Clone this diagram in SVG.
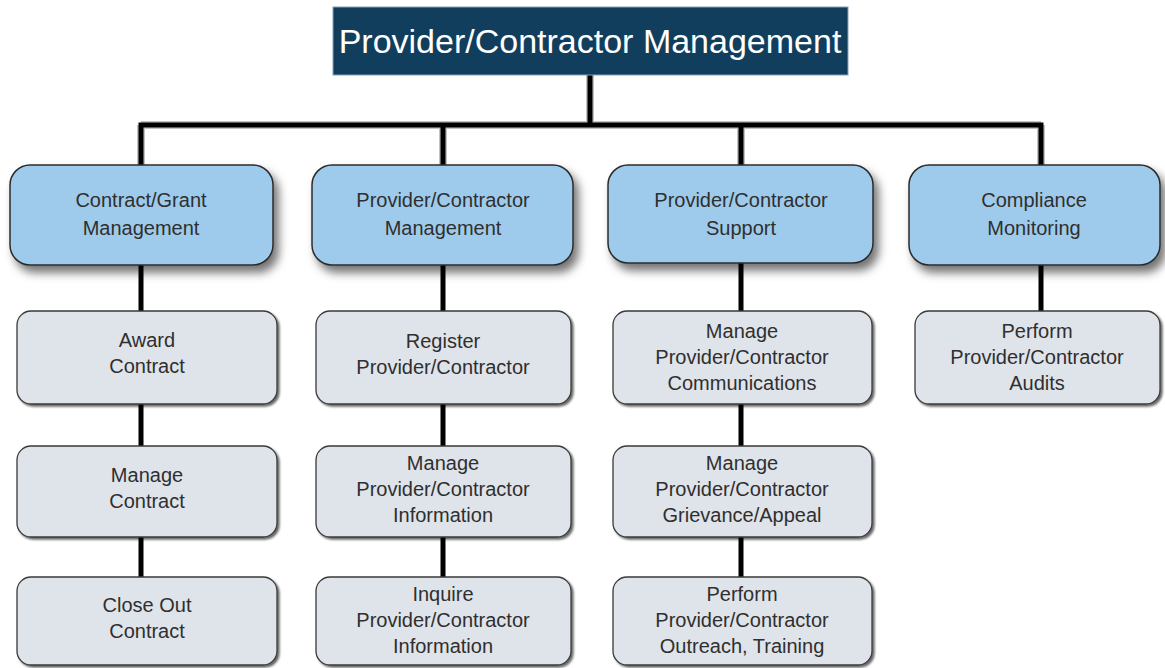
<svg xmlns="http://www.w3.org/2000/svg" width="1165" height="668" viewBox="0 0 1165 668">
<defs>
<filter id="sh" x="-10%" y="-10%" width="130%" height="140%">
<feDropShadow dx="5" dy="7" stdDeviation="5" flood-color="#000" flood-opacity="0.55"/>
</filter>
<filter id="sh2" x="-5%" y="-5%" width="110%" height="115%">
<feDropShadow dx="2" dy="2" stdDeviation="1" flood-color="#000" flood-opacity="0.6"/>
</filter>
<style>
.conn{stroke:#000;stroke-width:5;fill:none;stroke-linecap:square}
.halo{stroke:#999;stroke-width:8;fill:none;opacity:0.6}
.blue{fill:#9ecbec;stroke:#2b2b2b;stroke-width:1.5;filter:url(#sh)}
.gray{fill:#dfe3ea;stroke:#3a3a3a;stroke-width:1.3;filter:url(#sh2)}
.t{font-family:"Liberation Sans",Arial,sans-serif;font-size:20px;fill:#2f2f2f;text-anchor:middle}
.title{font-family:"Liberation Sans",Arial,sans-serif;font-size:34px;fill:#ffffff;text-anchor:middle}
</style>
</defs>
<rect width="1165" height="668" fill="#ffffff"/>
<g id="connectors">
<path class="halo" d="M590 75V125M141 125H1041M141 125V165M443 125V165M741 125V165M1041 125V165"/>
<path class="conn" d="M590 75V125M141 125H1041M141 125V165M443 125V165M741 125V165M1041 125V165"/>
<path class="conn" d="M141 265V311M141 404V446M141 537V577"/>
<path class="conn" d="M443 265V311M443 404V446M443 537V577"/>
<path class="conn" d="M741 265V311M741 404V446M741 537V577"/>
<path class="conn" d="M1041 265V311"/>
</g>
<g id="root">
<rect x="333" y="7" width="515" height="68" fill="#123e5d" stroke="#8aa0b0" stroke-width="1"/>
<text class="title" x="590" y="53">Provider/Contractor Management</text>
</g>
<g id="c1">
<rect class="blue" x="10" y="165" width="263" height="100" rx="20"/>
<text class="t" x="141" y="207">Contract/Grant</text>
<text class="t" x="141" y="235">Management</text>
</g>
<g id="c2">
<rect class="blue" x="312" y="165" width="261" height="100" rx="20"/>
<text class="t" x="443" y="207">Provider/Contractor</text>
<text class="t" x="443" y="235">Management</text>
</g>
<g id="c3">
<rect class="blue" x="608" y="165" width="265" height="98" rx="20"/>
<text class="t" x="741" y="207">Provider/Contractor</text>
<text class="t" x="741" y="235">Support</text>
</g>
<g id="c4">
<rect class="blue" x="909" y="165" width="251" height="100" rx="20"/>
<text class="t" x="1034" y="207">Compliance</text>
<text class="t" x="1034" y="235">Monitoring</text>
</g>
<g id="c1a">
<rect class="gray" x="17" y="311" width="260" height="93" rx="14"/>
<text class="t" x="147" y="347">Award</text>
<text class="t" x="147" y="373">Contract</text>
</g>
<g id="c1b">
<rect class="gray" x="17" y="446" width="260" height="91" rx="14"/>
<text class="t" x="147" y="482">Manage</text>
<text class="t" x="147" y="508">Contract</text>
</g>
<g id="c1c">
<rect class="gray" x="17" y="577" width="260" height="88" rx="14"/>
<text class="t" x="147" y="612">Close Out</text>
<text class="t" x="147" y="638">Contract</text>
</g>
<g id="c2a">
<rect class="gray" x="316" y="311" width="255" height="93" rx="14"/>
<text class="t" x="443" y="348">Register</text>
<text class="t" x="443" y="374">Provider/Contractor</text>
</g>
<g id="c2b">
<rect class="gray" x="316" y="446" width="255" height="91" rx="14"/>
<text class="t" x="443" y="470">Manage</text>
<text class="t" x="443" y="496">Provider/Contractor</text>
<text class="t" x="443" y="522">Information</text>
</g>
<g id="c2c">
<rect class="gray" x="316" y="577" width="255" height="88" rx="14"/>
<text class="t" x="443" y="601">Inquire</text>
<text class="t" x="443" y="627">Provider/Contractor</text>
<text class="t" x="443" y="653">Information</text>
</g>
<g id="c3a">
<rect class="gray" x="613" y="311" width="259" height="93" rx="14"/>
<text class="t" x="742" y="338">Manage</text>
<text class="t" x="742" y="364">Provider/Contractor</text>
<text class="t" x="742" y="390">Communications</text>
</g>
<g id="c3b">
<rect class="gray" x="613" y="446" width="259" height="91" rx="14"/>
<text class="t" x="742" y="470">Manage</text>
<text class="t" x="742" y="496">Provider/Contractor</text>
<text class="t" x="742" y="522">Grievance/Appeal</text>
</g>
<g id="c3c">
<rect class="gray" x="613" y="577" width="259" height="88" rx="14"/>
<text class="t" x="742" y="601">Perform</text>
<text class="t" x="742" y="627">Provider/Contractor</text>
<text class="t" x="742" y="653">Outreach, Training</text>
</g>
<g id="c4a">
<rect class="gray" x="915" y="311" width="245" height="93" rx="14"/>
<text class="t" x="1037" y="338">Perform</text>
<text class="t" x="1037" y="364">Provider/Contractor</text>
<text class="t" x="1037" y="390">Audits</text>
</g>
</svg>
